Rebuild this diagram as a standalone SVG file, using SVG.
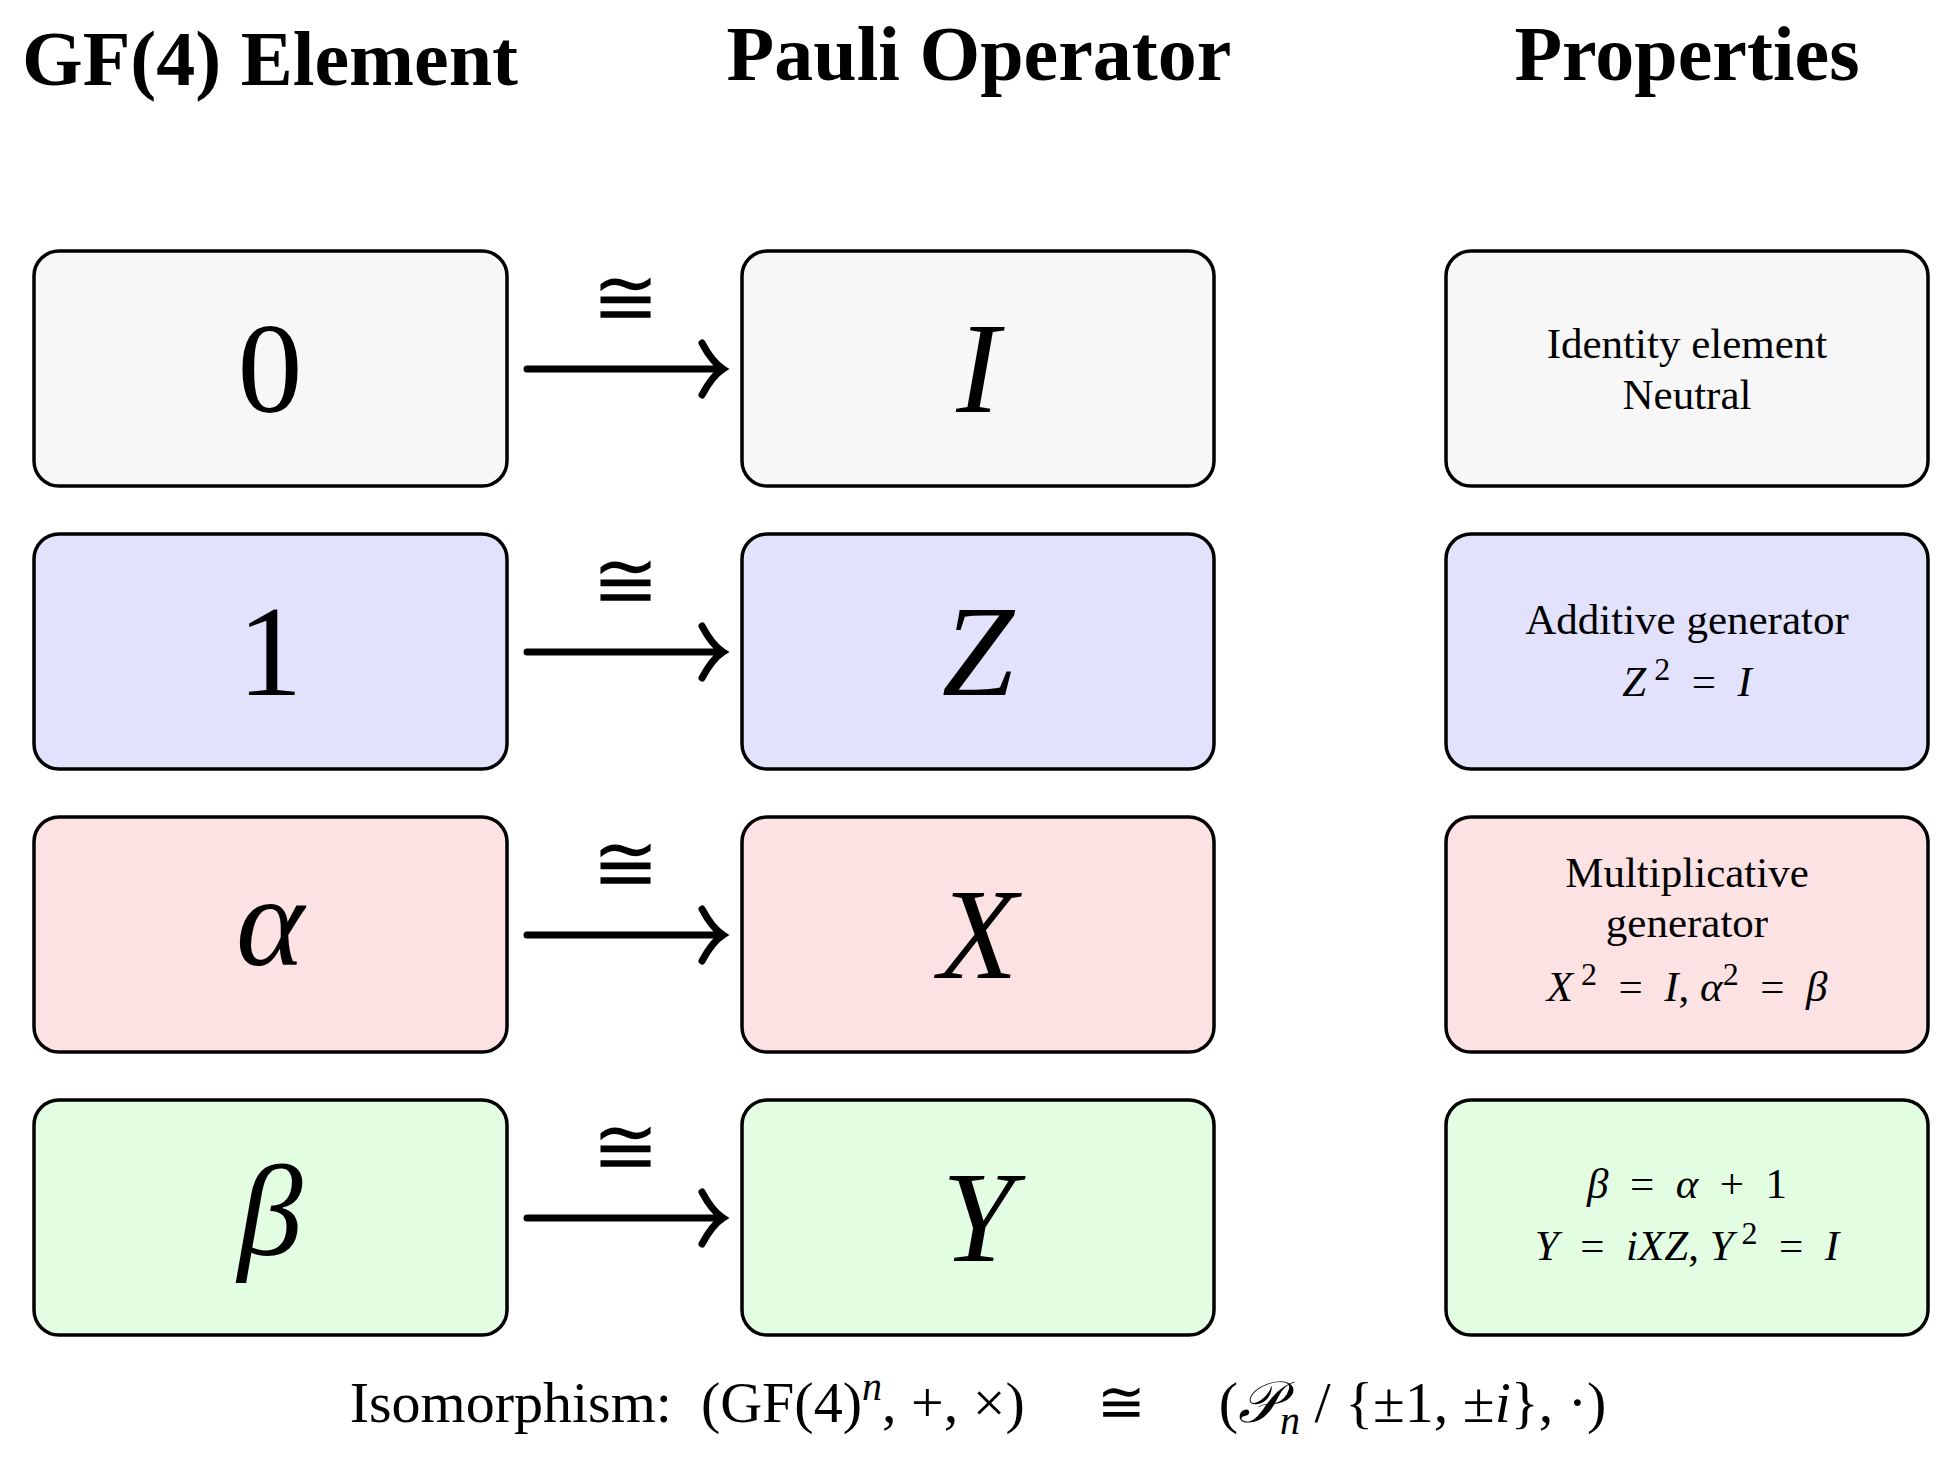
<svg xmlns="http://www.w3.org/2000/svg" width="1948" height="1474" viewBox="0 0 1948 1474">
<style>
.box{stroke:#000;stroke-width:3.5}
.g{fill:#f7f7f7}.b{fill:#e2e2fc}.r{fill:#fde2e4}.gr{fill:#e2fde2}
text{font-family:"Liberation Serif","DejaVu Serif",serif;fill:#000;text-anchor:middle}
.h{font-size:78px;font-weight:bold}
.big{font-size:130px}
.it{font-style:italic}
.p{font-size:43px}
.cong{font-size:80px}
.ln{stroke:#000;stroke-width:7;fill:none;stroke-linecap:round}
</style>
<rect width="1948" height="1474" fill="#fff"/>
<text class="h" x="270" y="85">GF(4) Element</text>
<text class="h" x="979" y="80">Pauli Operator</text>
<text class="h" x="1687" y="80">Properties</text>

<g id="n0"><rect class="box g" x="34" y="251" width="473" height="235" rx="25"/><text class="big" x="270" y="412">0</text></g>
<g id="n1"><rect class="box b" x="34" y="534" width="473" height="235" rx="25"/><text class="big" x="270" y="695">1</text></g>
<g id="na"><rect class="box r" x="34" y="817" width="473" height="235" rx="25"/><text class="big it" x="270" y="965">α</text></g>
<g id="nb"><rect class="box gr" x="34" y="1100" width="473" height="235" rx="25"/><text class="big it" x="270" y="1255">β</text></g>

<g id="pI"><rect class="box g" x="742" y="251" width="472" height="235" rx="25"/><text class="big it" x="978" y="412">I</text></g>
<g id="pZ"><rect class="box b" x="742" y="534" width="472" height="235" rx="25"/><text class="big it" x="978" y="695">Z</text></g>
<g id="pX"><rect class="box r" x="742" y="817" width="472" height="235" rx="25"/><text class="big it" x="978" y="978">X</text></g>
<g id="pY"><rect class="box gr" x="742" y="1100" width="472" height="235" rx="25"/><text class="big it" x="978" y="1261">Y</text></g>

<g id="q0"><rect class="box g" x="1446" y="251" width="482" height="235" rx="25"/><text class="p" x="1687" y="358">Identity element</text><text class="p" x="1687" y="409">Neutral</text></g>
<g id="q1"><rect class="box b" x="1446" y="534" width="482" height="235" rx="25"/><text class="p" x="1687" y="634">Additive generator</text><text class="p" x="1687" y="696" xml:space="preserve"><tspan class="it">Z</tspan><tspan dy="-16" font-size="32"> 2</tspan><tspan dy="16">  =  </tspan><tspan class="it">I</tspan></text></g>
<g id="q2"><rect class="box r" x="1446" y="817" width="482" height="235" rx="25"/><text class="p" x="1687" y="887">Multiplicative</text><text class="p" x="1687" y="937">generator</text><text class="p" x="1687" y="1001" xml:space="preserve"><tspan class="it">X</tspan><tspan dy="-16" font-size="32"> 2</tspan><tspan dy="16">  =  </tspan><tspan class="it">I</tspan>, <tspan class="it">α</tspan><tspan dy="-16" font-size="32">2</tspan><tspan dy="16">  =  </tspan><tspan class="it">β</tspan></text></g>
<g id="q3"><rect class="box gr" x="1446" y="1100" width="482" height="235" rx="25"/><text class="p" x="1687" y="1198" xml:space="preserve"><tspan class="it">β</tspan>  =  <tspan class="it">α</tspan>  +  1</text><text class="p" x="1687" y="1260" xml:space="preserve"><tspan class="it">Y</tspan>  =  <tspan class="it">iXZ</tspan>, <tspan class="it">Y</tspan><tspan dy="-16" font-size="32"> 2</tspan><tspan dy="16">  =  </tspan><tspan class="it">I</tspan></text></g>

<g id="connectors">
<path class="ln" d="M527 369H722M702 343Q712 362 723 369Q712 376 702 395"/>
<path class="ln" d="M527 652H722M702 626Q712 645 723 652Q712 659 702 678"/>
<path class="ln" d="M527 935H722M702 909Q712 928 723 935Q712 942 702 961"/>
<path class="ln" d="M527 1218H722M702 1192Q712 1211 723 1218Q712 1225 702 1244"/>
<text class="cong" x="625" y="325">≅</text>
<text class="cong" x="625" y="608">≅</text>
<text class="cong" x="625" y="891">≅</text>
<text class="cong" x="625" y="1174">≅</text>
</g>

<text x="978" y="1422" font-size="58" xml:space="preserve">Isomorphism:  (GF(4)<tspan dy="-22" font-size="40" class="it">n</tspan><tspan dy="22">, +, ×)     ≅     (</tspan><tspan class="it">𝒫</tspan><tspan dy="12" font-size="40" class="it">n</tspan><tspan dy="-12"> / {±1, ±</tspan><tspan class="it">i</tspan>}, ·)</text>
</svg>
